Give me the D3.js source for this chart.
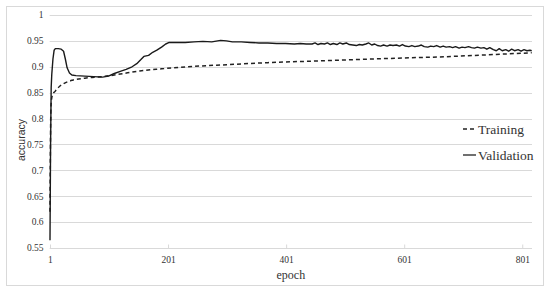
<!DOCTYPE html>
<html lang="en">
<head>
<meta charset="utf-8">
<title>accuracy vs epoch</title>
<script src="https://cdn.jsdelivr.net/npm/d3@7"></script>
<style>
  body { margin: 0; background: #fff; }
  svg text { font-family: "Liberation Serif", "Times New Roman", serif; fill: #333; }
</style>
</head>
<body>
<div id="chart"></div>
<script>
  // values: [epoch, accuracy]
  const validation = [
    [1, 0.565], [2, 0.75], [3, 0.86], [4, 0.885], [6, 0.915], [8, 0.932], [10, 0.935],
    [15, 0.935], [20, 0.934], [24, 0.930], [27, 0.915], [30, 0.898], [34, 0.888], [38, 0.884],
    [45, 0.883], [60, 0.882], [75, 0.881], [90, 0.880], [100, 0.882], [110, 0.887], [120, 0.891],
    [130, 0.895], [140, 0.900], [148, 0.906], [155, 0.914], [160, 0.920], [168, 0.922],
    [175, 0.928], [182, 0.932], [190, 0.938], [197, 0.944], [203, 0.947], [215, 0.947],
    [230, 0.947], [245, 0.948], [260, 0.949], [275, 0.948], [290, 0.951], [300, 0.950],
    [310, 0.948], [325, 0.948], [340, 0.947], [355, 0.946], [370, 0.946], [385, 0.945],
    [400, 0.945], [415, 0.944], [425, 0.945], [435, 0.944], [445, 0.944], [450, 0.946],
    [455, 0.943], [460, 0.945], [466, 0.944], [471, 0.946], [476, 0.943], [481, 0.945],
    [487, 0.943], [492, 0.946], [497, 0.944], [503, 0.946], [508, 0.943], [514, 0.942],
    [520, 0.941], [525, 0.943], [530, 0.942], [536, 0.944], [541, 0.946], [546, 0.942],
    [551, 0.944], [556, 0.941], [561, 0.940], [566, 0.942], [572, 0.940], [577, 0.942],
    [582, 0.941], [588, 0.942], [593, 0.940], [598, 0.943], [603, 0.940], [609, 0.939],
    [614, 0.941], [619, 0.939], [625, 0.940], [630, 0.942], [635, 0.939], [641, 0.938],
    [646, 0.940], [651, 0.939], [656, 0.941], [662, 0.938], [667, 0.940], [672, 0.938],
    [678, 0.939], [683, 0.937], [688, 0.939], [694, 0.936], [699, 0.938], [704, 0.937],
    [710, 0.939], [715, 0.937], [720, 0.936], [725, 0.938], [731, 0.936], [736, 0.937],
    [741, 0.934], [746, 0.937], [752, 0.933], [757, 0.931], [762, 0.935], [767, 0.931],
    [773, 0.933], [778, 0.930], [783, 0.934], [788, 0.931], [794, 0.933], [799, 0.930],
    [804, 0.933], [809, 0.931], [814, 0.932], [817, 0.931]
  ];
  const training = [
    [1, 0.62], [2, 0.78], [3, 0.83], [5, 0.845], [10, 0.853], [17, 0.862], [25, 0.868],
    [39, 0.874], [60, 0.878], [80, 0.880], [97, 0.882], [120, 0.886], [153, 0.892],
    [190, 0.896], [234, 0.900], [300, 0.904], [370, 0.908], [446, 0.911], [520, 0.914],
    [600, 0.917], [672, 0.9195], [740, 0.923], [817, 0.927]
  ];
  const xTicks = [1, 201, 401, 601, 801];
  const yTicks = [0.55, 0.6, 0.65, 0.7, 0.75, 0.8, 0.85, 0.9, 0.95, 1];
  const seriesNames = ["Training", "Validation"];

  const width = 550, height = 291;
  const plot = { left: 49.7, right: 532, top: 15, bottom: 248 };

  const svg = d3.select("#chart").append("svg")
    .attr("width", width)
    .attr("height", height);

  // outer frame
  svg.append("rect")
    .attr("x", 6.5).attr("y", 6.5)
    .attr("width", 537).attr("height", 279)
    .attr("fill", "#fff")
    .attr("stroke", "#d9d9d9");

  const x = d3.scaleLinear().domain([0.5, 817.5]).range([plot.left, plot.right]);
  const y = d3.scaleLinear().domain([0.55, 1]).range([plot.bottom, plot.top]);

  // gridlines
  svg.append("g")
    .selectAll("line")
    .data(yTicks)
    .enter()
    .append("line")
      .attr("x1", plot.left).attr("x2", plot.right)
      .attr("y1", function(d) { return Math.round(y(d)) + 0.5; })
      .attr("y2", function(d) { return Math.round(y(d)) + 0.5; })
      .attr("stroke", "#d9d9d9");

  // y tick labels
  svg.append("g")
    .selectAll("text")
    .data(yTicks)
    .enter()
    .append("text")
      .attr("x", 43.5)
      .attr("y", function(d) { return y(d); })
      .attr("dy", "0.35em")
      .attr("text-anchor", "end")
      .style("font-size", "9.5px")
      .text(function(d) { return d3.format("")(d); });

  // x axis ticks + labels
  let xAxis = d3.axisBottom(x)
    .tickValues(xTicks)
    .tickSize(0)
    .tickPadding(8)
    .tickFormat(d3.format("d"));
  let xg = svg.append("g")
    .attr("transform", "translate(0," + (Math.round(plot.bottom) + 0.5) + ")")
    .call(xAxis);
  xg.select(".domain").remove();
  xg.selectAll("text")
    .style("font-family", "Liberation Serif, serif")
    .style("font-size", "9.5px")
    .attr("fill", "#333");
  xg.selectAll(".tick")
    .append("line")
      .attr("y1", -4).attr("y2", 0)
      .attr("stroke", "#d9d9d9");

  // axis titles
  svg.append("text")
    .attr("x", x(409))
    .attr("y", 279)
    .attr("text-anchor", "middle")
    .style("font-size", "12px")
    .text("epoch");

  svg.append("text")
    .attr("transform", "translate(25,140) rotate(-90)")
    .attr("text-anchor", "middle")
    .style("font-family", "Liberation Sans, Arial, sans-serif")
    .style("font-size", "10.5px")
    .text("accuracy");

  const line = d3.line()
    .x(function(d) { return x(d[0]); })
    .y(function(d) { return y(d[1]); });

  svg.append("path")
    .datum(training)
    .attr("d", line.curve(d3.curveMonotoneX))
    .attr("fill", "none")
    .attr("stroke", "#222")
    .attr("stroke-width", 1.5)
    .attr("stroke-dasharray", "4,3");

  svg.append("path")
    .datum(validation)
    .attr("d", line.curve(d3.curveLinear))
    .attr("fill", "none")
    .attr("stroke", "#1a1a1a")
    .attr("stroke-width", 1.4)
    .attr("stroke-linejoin", "round");

  // legend
  let legend = svg.append("g").attr("transform", "translate(463,0)");
  seriesNames.forEach(function(name, i) {
    let cy = 129 + i * 26;
    legend.append("line")
      .attr("x1", 0).attr("x2", 13)
      .attr("y1", cy).attr("y2", cy)
      .attr("stroke", "#222")
      .attr("stroke-width", 1.3)
      .attr("stroke-dasharray", i === 0 ? "4,3" : null);
    legend.append("text")
      .attr("x", 15)
      .attr("y", cy)
      .attr("dy", "0.35em")
      .style("font-size", "13.5px")
      .attr("fill", "#222")
      .text(name);
  });
</script>
</body>
</html>
